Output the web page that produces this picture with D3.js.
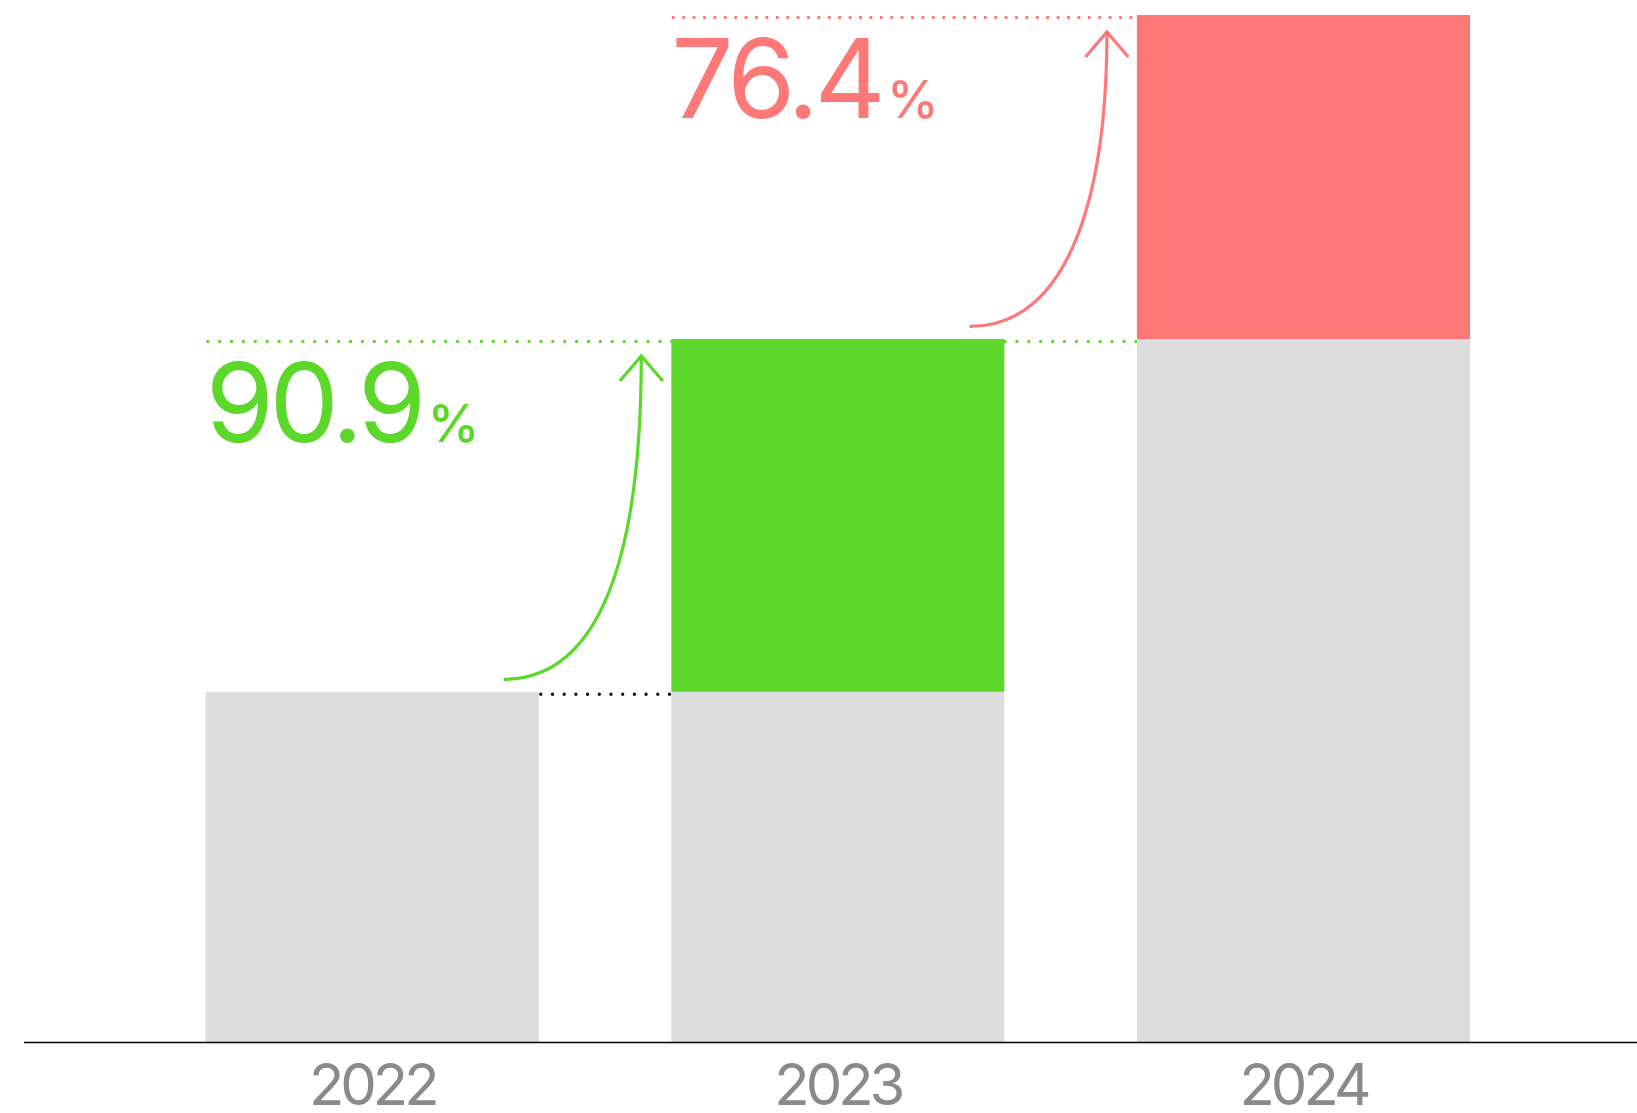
<!DOCTYPE html>
<html>
<head>
<meta charset="utf-8">
<script src="https://cdn.jsdelivr.net/npm/d3@7"></script>
<style>
  html, body { margin: 0; padding: 0; background: #fff; }
  svg { display: block; }
</style>
</head>
<body>
<svg id="chart" width="1637" height="1113"></svg>
<script>
// ---- data ----
const years = ["2022", "2023", "2024"];
const totals = [34.1, 68.45, 100];          // relative bar heights
const growthValues = ["90.9", "76.4"];      // growth 2022->2023, 2023->2024
const growthUnit = "%";

// ---- styles ----
const GRAY = "#dcdddc";
const GREEN = "#5cd82a";
const RED = "#ff7878";
const LABEL = "#8a8a8a";
const segColors = [null, GREEN, RED];
const FONT = "Inter, 'Noto Sans', sans-serif";

const svg = d3.select("#chart");
const W = 1637, H = 1113;
const baseY = 1042;

const x = d3.scaleBand().domain(years).range([205.7, 1470]).paddingInner(0.2846).paddingOuter(0);
const y = d3.scaleLinear().domain([0, 100]).range([baseY, 15]);

const bw = x.bandwidth();
const xs = i => x(years[i]);
const xe = i => x(years[i]) + bw;

// segments
const segs = [];
years.forEach((yr, i) => {
  const base = i === 0 ? totals[0] : totals[i - 1];
  segs.push({ yr, y0: 0, y1: base, color: GRAY });
  if (i > 0) segs.push({ yr, y0: base, y1: totals[i], color: segColors[i] });
});

// dotted guide lines (behind bars)
const guides = [
  { x1: xe(0), x2: xs(1), v: totals[0], color: "#111", gap: 11.7 },
  { x1: xs(0), x2: xs(2), v: totals[1], color: GREEN, gap: 11.9 },
  { x1: xs(1), x2: xs(2), v: totals[2], color: RED, gap: 10.4 },
];
svg.append("g").selectAll("line").data(guides).join("line")
  .attr("x1", d => d.x1 + 2).attr("x2", d => d.x2)
  .attr("y1", d => y(d.v) + 2.5).attr("y2", d => y(d.v) + 2.5)
  .attr("stroke", d => d.color)
  .attr("stroke-width", 3.4)
  .attr("stroke-linecap", "round")
  .attr("stroke-dasharray", d => `0 ${d.gap}`);

svg.append("g").selectAll("rect").data(segs).join("rect")
  .attr("x", d => x(d.yr))
  .attr("width", bw)
  .attr("y", d => y(d.y1))
  .attr("height", d => y(d.y0) - y(d.y1))
  .attr("fill", d => d.color);

// axis
const axis = d3.axisBottom(x).tickSize(0).tickPadding(0);
const ag = svg.append("g").attr("transform", `translate(0,${baseY})`).call(axis);
ag.select(".domain").remove();
ag.selectAll("text")
  .attr("dy", null)
  .attr("y", 63)
  .attr("fill", LABEL)
  .attr("font-family", FONT)
  .attr("font-size", 58)
  .attr("letter-spacing", -4)
  .attr("font-weight", 400);
svg.append("line")
  .attr("x1", 24).attr("x2", W)
  .attr("y1", baseY + 0.5).attr("y2", baseY + 0.5)
  .attr("stroke", "#000").attr("stroke-width", 1.6);

// growth annotations
const annos = [
  { i: 1, text: growthValues[0], color: GREEN, tx: xs(0) },
  { i: 2, text: growthValues[1], color: RED, tx: xs(1) },
];
annos.forEach(a => {
  const t = svg.append("text")
    .attr("x", a.tx)
    .attr("y", y(totals[a.i]) + 103)
    .attr("fill", a.color)
    .attr("font-family", FONT)
    .attr("font-size", 110)
    .attr("font-weight", 400)
    .attr("letter-spacing", -4.5);
  t.append("tspan").text(a.text);
  t.append("tspan").attr("dx", 6).attr("font-size", 52).attr("font-weight", 500)
    .attr("letter-spacing", 0).text(growthUnit);

  // curved arrow
  const sx = xe(a.i - 1) - 35, sy = y(totals[a.i - 1]) - 12.5;
  const ex = xs(a.i) - 30, ey = y(totals[a.i]) + 17;
  const path = d3.path();
  path.moveTo(sx, sy);
  path.bezierCurveTo(sx + 95, sy, ex, sy - 120, ex, ey);
  svg.append("path").attr("d", path.toString())
    .attr("fill", "none").attr("stroke", a.color).attr("stroke-width", 3.2);
  const head = d3.path();
  head.moveTo(ex - 21.5, ey + 25);
  head.lineTo(ex, ey);
  head.lineTo(ex + 21.5, ey + 25);
  svg.append("path").attr("d", head.toString())
    .attr("fill", "none").attr("stroke", a.color).attr("stroke-width", 3.2);
});
</script>
</body>
</html>
